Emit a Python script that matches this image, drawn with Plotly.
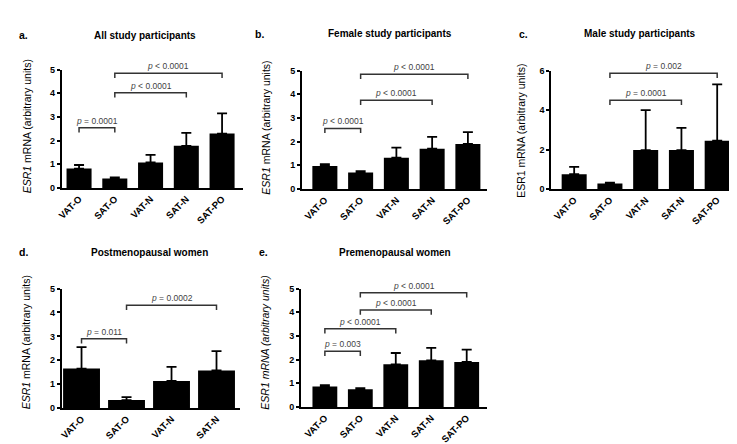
import plotly.graph_objects as go

W, H = 737, 444

# ---------------- data ----------------
cats5 = ["VAT-O", "SAT-O", "VAT-N", "SAT-N", "SAT-PO"]
cats4 = ["VAT-O", "SAT-O", "VAT-N", "SAT-N"]

all_mean = [0.82, 0.40, 1.08, 1.78, 2.30]
all_upper = [0.97, 0.45, 1.40, 2.33, 3.15]
fem_mean = [0.97, 0.70, 1.32, 1.70, 1.90]
fem_upper = [1.05, 0.75, 1.75, 2.20, 2.40]
male_mean = [0.75, 0.27, 1.97, 1.97, 2.45]
male_upper = [1.12, 0.32, 4.00, 3.10, 5.30]
post_mean = [1.65, 0.33, 1.13, 1.57]
post_upper = [2.55, 0.45, 1.72, 2.38]
pre_mean = [0.86, 0.75, 1.80, 1.97, 1.90]
pre_upper = [0.92, 0.79, 2.28, 2.50, 2.42]

# brackets: (from category, to category, height, label)
all_brackets = [(0, 1, 2.55, "<i>p</i> = 0.0001"), (1, 3, 4.02, "<i>p</i> &lt; 0.0001"), (1, 4, 4.85, "<i>p</i> &lt; 0.0001")]
fem_brackets = [(0, 1, 2.56, "<i>p</i> &lt; 0.0001"), (1, 3, 3.75, "<i>p</i> &lt; 0.0001"), (1, 4, 4.85, "<i>p</i> &lt; 0.0001")]
male_brackets = [(1, 3, 4.5, "<i>p</i> = 0.0001"), (1, 4, 5.87, "<i>p</i> = 0.002")]
post_brackets = [(0, 1, 2.9, "<i>p</i> = 0.011"), (1, 3, 4.3, "<i>p</i> = 0.0002")]
pre_brackets = [(0, 1, 2.35, "<i>p</i> = 0.003"), (0, 2, 3.3, "<i>p</i> &lt; 0.0001"), (1, 3, 4.1, "<i>p</i> &lt; 0.0001"), (1, 4, 4.83, "<i>p</i> &lt; 0.0001")]

panels = [
    dict(letter="a.", title="All study participants", cats=cats5, mean=all_mean, upper=all_upper,
         brackets=all_brackets, ymax=5, dtick=1,
         ytitle="<i>ESR1</i> mRNA (arbitrary units)",
         px=(49, 232, 66.5, 36), py=(58, 179), bw=0.7,
         title_xy=(133, 23), letter_xy=(11, 23), ytitle_xy=(14, 116)),
    dict(letter="b.", title="Female study participants", cats=cats5, mean=fem_mean, upper=fem_upper,
         brackets=fem_brackets, ymax=5, dtick=1,
         ytitle="<i>ESR1</i> mRNA (arbitrary units)",
         px=(291, 477, 314, 36), py=(59, 180), bw=0.7,
         title_xy=(380, 21), letter_xy=(248, 21), ytitle_xy=(255, 117)),
    dict(letter="c.", title="Male study participants", cats=cats5, mean=male_mean, upper=male_upper,
         brackets=male_brackets, ymax=6, dtick=2,
         ytitle="ESR1 mRNA (arbitrary units)",
         px=(542, 727, 565, 36), py=(59, 180), bw=0.7,
         title_xy=(631, 21), letter_xy=(514, 21), ytitle_xy=(512, 121)),
    dict(letter="d.", title="Postmenopausal women", cats=cats4, mean=post_mean, upper=post_upper,
         brackets=post_brackets, ymax=5, dtick=1,
         ytitle="<i>ESR1</i> mRNA (arbitrary units)",
         px=(49, 229, 69, 45.3), py=(282, 404), bw=0.82,
         title_xy=(137, 245), letter_xy=(11, 245), ytitle_xy=(14, 337)),
    dict(letter="e.", title="Premenopausal women", cats=cats5, mean=pre_mean, upper=pre_upper,
         brackets=pre_brackets, ymax=5, dtick=1,
         ytitle="<i>ESR1 mRNA (arbitrary units)</i>",
         px=(290, 477, 314, 35.7), py=(282, 403), bw=0.7,
         title_xy=(385, 245), letter_xy=(252, 245), ytitle_xy=(254, 337)),
]

FONT = "Liberation Sans, Arial, sans-serif"
BR_COLOR = "#333333"

fig = go.Figure()
layout = dict(width=W, height=H, margin=dict(l=0, r=0, t=0, b=0),
              paper_bgcolor="white", plot_bgcolor="white", showlegend=False,
              font=dict(family=FONT, color="black"))
annotations = []
shapes = []

for i, p in enumerate(panels):
    n = i + 1
    xa = "xaxis" if n == 1 else f"xaxis{n}"
    ya = "yaxis" if n == 1 else f"yaxis{n}"
    xr = "x" if n == 1 else f"x{n}"
    yr = "y" if n == 1 else f"y{n}"
    x0, x1, c0, s = p["px"]
    top, bot = p["py"]
    xs = list(range(len(p["cats"])))
    err = [u - m for u, m in zip(p["upper"], p["mean"])]
    fig.add_trace(go.Bar(
        x=xs, y=p["mean"], width=p["bw"], marker=dict(color="black", line=dict(width=0)),
        error_y=dict(type="data", symmetric=False, array=err, arrayminus=[0] * len(err),
                     color="black", thickness=1.8, width=5),
        xaxis=xr, yaxis=yr, hoverinfo="skip"))
    layout[xa] = dict(domain=[x0 / W, x1 / W], range=[(x0 - c0) / s, (x1 - c0) / s],
                      tickmode="array", tickvals=xs, ticktext=[f"<b>{c}</b>" for c in p["cats"]],
                      tickangle=-45, tickfont=dict(size=9.5, family=FONT, color="black"),
                      showline=True, linecolor="black", linewidth=1.8, ticks="",
                      showgrid=False, zeroline=False, anchor=yr, fixedrange=True)
    layout[ya] = dict(domain=[1 - bot / H, 1 - top / H], range=[0, p["ymax"]], dtick=p["dtick"],
                      tickvals=list(range(0, p["ymax"] + 1, p["dtick"])),
                      ticktext=[f"<b>{v}</b>" for v in range(0, p["ymax"] + 1, p["dtick"])],
                      showline=True, linecolor="black", linewidth=1.8, ticks="outside",
                      ticklen=3, tickwidth=1.5, tickcolor="black",
                      tickfont=dict(size=9, family=FONT, color="black"),
                      showgrid=False, zeroline=False, anchor=xr, fixedrange=True)
    tail = 0.04 * p["ymax"]
    for (a, b, h, lab) in p["brackets"]:
        shapes.append(dict(type="path", xref=xr, yref=yr,
                           path=f"M {a},{h - tail} L {a},{h} L {b},{h} L {b},{h - tail}",
                           line=dict(color=BR_COLOR, width=1.5)))
        annotations.append(dict(x=(a + b) / 2, y=h, xref=xr, yref=yr, text=lab, showarrow=False,
                                yanchor="bottom", yshift=0,
                                font=dict(size=8.5, family=FONT, color="#3f3f3f")))
    tx, ty = p["title_xy"]
    annotations.append(dict(x=tx / W, y=1 - ty / H, xref="paper", yref="paper",
                            text=f"<b>{p['title']}</b>", showarrow=False,
                            xanchor="center", yanchor="middle",
                            font=dict(size=10, family=FONT, color="black")))
    lx, ly = p["letter_xy"]
    annotations.append(dict(x=lx / W, y=1 - ly / H, xref="paper", yref="paper",
                            text=f"<b>{p['letter']}</b>", showarrow=False,
                            xanchor="center", yanchor="middle",
                            font=dict(size=10.5, family=FONT, color="black")))
    yx, yy = p["ytitle_xy"]
    annotations.append(dict(x=yx / W, y=1 - yy / H, xref="paper", yref="paper",
                            text=p["ytitle"], showarrow=False, textangle=-90,
                            xanchor="center", yanchor="middle",
                            font=dict(size=10.5, family=FONT, color="black")))

layout["annotations"] = annotations
layout["shapes"] = shapes
fig.update_layout(**layout)
fig.write_html("out.html")
